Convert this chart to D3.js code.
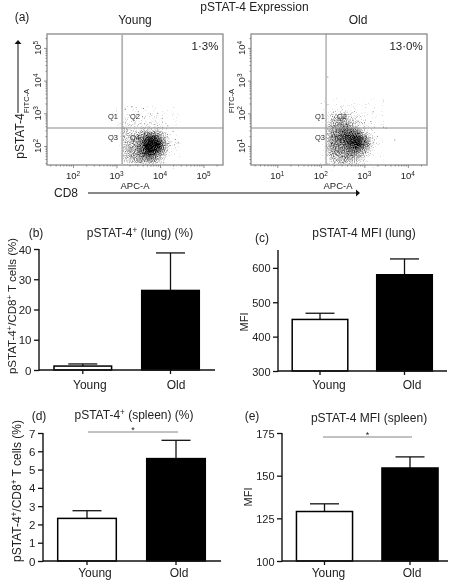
<!DOCTYPE html>
<html><head><meta charset="utf-8">
<style>html,body{margin:0;background:#fff}svg{display:block;opacity:.999}text{font-family:"Liberation Sans",Arial,sans-serif;fill:#222}</style>
<script src="https://cdn.jsdelivr.net/npm/d3@7"></script></head><body>
<svg id="c" width="454" height="580"></svg>
<script>
const categories=["Young","Old"];
const lungPct=[1.3,26.3], lungPctTop=[2.0,38.7];
const lungMfi=[450,580], lungMfiTop=[468,626];
const spleenPct=[2.33,5.6], spleenPctTop=[2.75,6.6];
const spleenMfi=[129,154.5], spleenMfiTop=[133.5,161];
const youngTicksX=[2,3,4,5], youngTicksY=[2,3,4,5];
const oldTicksX=[1,2,3,4], oldTicksY=[1,2,3,4];
const youngLogX0=3.12, oldLogX0=2.12, cellLogX=0.1;
const youngLogY0=3.05, oldLogY0=2.28, cellLogY=0.1223;
// density of events (0–9), rows top to bottom, columns left to right
const youngDensity=[
[0,0,0,1,0,0,0,0,0,0,0,0],
[0,1,0,1,1,1,0,1,0,0,0,0],
[1,1,1,1,1,1,1,1,1,0,0,0],
[1,1,1,1,1,1,1,1,1,1,0,0],
[2,2,1,1,2,2,2,2,2,1,1,0],
[2,2,2,2,3,4,4,4,3,2,1,0],
[2,2,2,3,4,6,7,7,5,3,2,0],
[2,2,3,3,5,7,9,9,7,4,2,1],
[2,3,3,4,5,8,9,9,8,4,2,1],
[2,3,3,4,5,7,9,8,6,4,2,0],
[2,3,3,4,5,6,7,6,4,3,1,0],
[2,2,3,3,4,4,5,4,3,2,1,0],
[1,2,2,3,3,3,3,3,2,1,0,0]];
const oldDensity=[
[0,0,0,1,0,0,0,0,0,0,0,0,0],
[0,1,1,1,1,1,1,0,0,0,0,0,0],
[1,2,2,2,2,2,1,1,0,0,0,0,0],
[1,3,3,3,3,2,2,1,1,0,0,0,0],
[2,3,4,4,4,3,2,2,1,0,0,0,0],
[2,4,4,5,5,4,3,2,1,1,0,0,0],
[3,4,5,6,6,6,5,4,2,1,1,0,0],
[3,5,5,6,7,7,7,6,4,2,1,0,0],
[3,5,5,6,7,8,9,8,6,4,2,1,0],
[3,5,5,6,7,8,9,9,7,5,2,1,0],
[3,5,5,5,6,7,8,8,6,4,2,0,0],
[3,4,5,5,5,6,6,6,4,3,1,0,0],
[2,4,4,4,5,5,5,4,3,2,1,0,0],
[2,3,3,4,4,4,3,3,2,1,0,0,0],
[1,2,3,3,3,3,2,2,1,1,0,0,0]];
const youngStrayX=[3.2,3.35,3.5,3.62,3.78,3.95,4.05,4.18,4.3,4.35,3.3,4.42];
const youngStrayY=[3.12,3.2,3.05,3.15,2.98,3.0,2.85,2.62,2.45,2.2,2.95,2.1];
const oldStrayX=[2.16,3.44,3.7,3.5,3.2,3.15,3.3];
const oldStrayY=[3.11,1.58,1.18,1.55,2.05,1.75,1.3];

const svg=d3.select("#c");
const defs=svg.append("defs");
const f=defs.append("filter").attr("id","grain").attr("x","-10%").attr("y","-10%").attr("width","120%").attr("height","120%").attr("color-interpolation-filters","sRGB");
f.append("feGaussianBlur").attr("in","SourceGraphic").attr("stdDeviation",1.3).attr("result","b");
f.append("feTurbulence").attr("type","fractalNoise").attr("baseFrequency",0.9).attr("numOctaves",2).attr("seed",3).attr("result","n");
f.append("feColorMatrix").attr("in","n").attr("type","matrix").attr("values","0 0 0 0 0 0 0 0 0 0 0 0 0 0 0 1 0 0 0 0").attr("result","m");
f.append("feComposite").attr("in","b").attr("in2","m").attr("operator","arithmetic").attr("k1",0).attr("k2",0.95).attr("k3",1).attr("k4",-0.66).attr("result","a");
f.append("feComponentTransfer").attr("in","a").attr("result","c").append("feFuncA").attr("type","linear").attr("slope",1.25);
f.append("feGaussianBlur").attr("in","c").attr("stdDeviation",0.3);

function txt(x,y,s,size,o={}){
  const t=svg.append("text").attr("x",x).attr("y",y).attr("font-size",size).attr("text-anchor",o.anchor||"middle");
  if(o.rot)t.attr("transform",`rotate(${o.rot} ${x} ${y})`);
  s.forEach(p=>{
    const q=typeof p==="string"?{t:p}:p;
    const sp=t.append("tspan").text(q.t);
    if(q.sup)sp.attr("font-size",size*0.68).attr("dy",-size*0.32);
    else if(q.after)sp.attr("dy",size*0.32);
  });
  return t;
}
function arrow(x1,y1,x2,y2){
  svg.append("line").attr("x1",x1).attr("y1",y1).attr("x2",x2).attr("y2",y2).attr("stroke","#111").attr("stroke-width",1);
  const dx=Math.sign(x2-x1),dy=Math.sign(y2-y1);
  const a=[[x2+dx*4,y2+dy*4],[x2-dy*3.5,y2-dx*3.5],[x2+dy*3.5,y2+dx*3.5]];
  svg.append("path").attr("d",d3.line()(a)+"Z").attr("fill","#111");
}
function flow(c){
  const x=d3.scaleLinear().domain(c.dx).range([c.l,c.r]);
  const y=d3.scaleLinear().domain(c.dy).range([165,34]);
  const g=svg.append("g");
  const cells=g.append("g").attr("filter","url(#grain)");
  c.den.forEach((row,i)=>row.forEach((v,j)=>{
    if(!v)return;
    const a=c.x0+j*cellLogX, b=c.y0-i*cellLogY;
    cells.append("rect").attr("x",x(a)).attr("y",y(b)).attr("width",x(a+cellLogX)-x(a)+.3).attr("height",y(b-cellLogY)-y(b)+.3)
      .attr("fill","#000").attr("fill-opacity",Math.min(1,v/c.div));
  }));
  g.selectAll("circle").data(c.sx).join("circle").attr("cx",d=>x(d)).attr("cy",(d,i)=>y(c.sy[i])).attr("r",.5).attr("fill","#555");
  g.append("rect").attr("x",c.l).attr("y",34).attr("width",c.r-c.l).attr("height",131).attr("fill","none").attr("stroke","#8a8a8a").attr("stroke-width",1.3);
  g.append("line").attr("x1",x(c.gx)).attr("x2",x(c.gx)).attr("y1",34).attr("y2",165).attr("stroke",c.gc).attr("stroke-width",c.gw);
  g.append("line").attr("x1",c.l).attr("x2",c.r).attr("y1",y(c.gy)).attr("y2",y(c.gy)).attr("stroke","#8a8a8a").attr("stroke-width",1);
  const minors=(lo,hi)=>{const m=[];for(let d=Math.floor(lo);d<hi;d++)for(let k=2;k<10;k++){const v=d+Math.log10(k);if(v>lo&&v<hi)m.push(v);}return m;};
  const ax=g.append("g").attr("transform","translate(0,165)").call(d3.axisBottom(x).tickValues(minors(...c.dx)).tickSize(1.5).tickFormat(""));
  const ay=g.append("g").attr("transform",`translate(${c.l},0)`).call(d3.axisLeft(y).tickValues(minors(...c.dy)).tickSize(1.5).tickFormat(""));
  const bx=g.append("g").attr("transform","translate(0,165)").call(d3.axisBottom(x).tickValues(c.tx).tickSize(3).tickFormat(""));
  const by=g.append("g").attr("transform",`translate(${c.l},0)`).call(d3.axisLeft(y).tickValues(c.ty).tickSize(3).tickFormat(""));
  [ax,ay,bx,by].forEach(a=>{a.select(".domain").remove();a.selectAll("line").attr("stroke","#666").attr("stroke-width",.7);});
  c.tx.forEach(v=>txt(x(v),179,["10",{t:String(v),sup:1}],9.5));
  c.ty.forEach(v=>txt(c.l-6,y(v),["10",{t:String(v),sup:1}],9.5,{rot:-90}));
  txt(c.fitc,101,["FITC-A"],7.5,{rot:-90});
  txt(c.apc,189,["APC-A"],9.5);
  txt(c.q1,119,["Q1"],7.5);txt(c.q2,119,["Q2"],7.5);txt(c.q1,140,["Q3"],7.5);txt(c.q2,140,["Q4"],7.5);
  txt(c.pctx,50,[c.pct],11.5);
  txt((c.l+c.r)/2+c.tdx,24,[c.name],12);
}
flow({l:47,r:223,dx:[1.402,5.448],dy:[1.419,5.425],tx:youngTicksX,ty:youngTicksY,den:youngDensity,div:8,x0:youngLogX0,y0:youngLogY0,gx:3.13,gy:2.55,gc:"#b5b5b5",gw:1.8,sx:youngStrayX,sy:youngStrayY,fitc:29,apc:135,q1:113,q2:135,pct:"1·3%",pctx:205,name:"Young",tdx:0});
flow({l:251,r:427,dx:[0.395,4.44],dy:[0.419,4.425],tx:oldTicksX,ty:oldTicksY,den:oldDensity,div:9.5,x0:oldLogX0,y0:oldLogY0,gx:2.12,gy:1.55,gc:"#8a8a8a",gw:1,sx:oldStrayX,sy:oldStrayY,fitc:234,apc:338,q1:320,q2:342,pct:"13·0%",pctx:406,name:"Old",tdx:19});

txt(254.5,11,["pSTAT-4 Expression"],12);
txt(22,21,["(a)"],12);
txt(24,136,["pSTAT-4"],12,{rot:-90});
arrow(18,113,18,44);
txt(66,197,["CD8"],12);
arrow(88,193,356,193);

function bars(c){
  const step=c.c2-c.c1, p=1-c.bw/step;
  const x=d3.scaleBand().domain(categories).range([c.c1-step/2,c.c2+step/2]).paddingInner(p).paddingOuter(p/2);
  const y=d3.scaleLinear().domain(c.domain).range([c.y0,c.y1]);
  const g=svg.append("g");
  const xa=g.append("g").attr("transform",`translate(0,${c.y0})`).call(d3.axisBottom(x).tickSize(4).tickFormat(""));
  xa.select(".domain").remove();xa.selectAll("line").attr("stroke","#111").attr("stroke-width",1.3);
  categories.forEach((k,i)=>txt(x(k)+x.bandwidth()/2+c.ldx[i],c.y0+c.ly,[k],12));
  categories.forEach((k,i)=>{
    const m=x(k)+x.bandwidth()/2;
    g.append("line").attr("x1",m).attr("x2",m).attr("y1",y(c.vals[i])).attr("y2",y(c.tops[i])).attr("stroke","#111").attr("stroke-width",1.3);
    g.append("line").attr("x1",m-14.5).attr("x2",m+14.5).attr("y1",y(c.tops[i])).attr("y2",y(c.tops[i])).attr("stroke","#111").attr("stroke-width",1.3);
    g.append("rect").attr("x",x(k)+.7).attr("y",y(c.vals[i])).attr("width",x.bandwidth()-1.4).attr("height",y(c.domain[0])-y(c.vals[i]))
      .attr("fill",i?"#000":"#fff").attr("stroke","#000").attr("stroke-width",1.5);
  });
  const ya=g.append("g").attr("transform",`translate(${c.ax},0)`).call(d3.axisLeft(y).tickValues(c.ticks).tickSize(5).tickFormat(""));
  ya.select(".domain").remove();ya.selectAll("line").attr("stroke","#111").attr("stroke-width",1.3);
  c.ticks.forEach(v=>txt(c.ax-7.5,y(v)+4.5,[String(v)],c.tf,{anchor:"end"}));
  g.append("line").attr("x1",c.ax).attr("x2",c.ax).attr("y1",c.y0+.7).attr("y2",c.y1).attr("stroke","#111").attr("stroke-width",1.4);
  g.append("line").attr("x1",c.ax).attr("x2",c.xEnd).attr("y1",c.y0).attr("y2",c.y0).attr("stroke","#111").attr("stroke-width",1.4);
  if(c.sig){
    g.append("line").attr("x1",c.sig[0]).attr("x2",c.sig[1]).attr("y1",c.sig[2]).attr("y2",c.sig[2]).attr("stroke","#777").attr("stroke-width",.9);
    txt((c.sig[0]+c.sig[1])/2,c.sig[2]+1,["*"],9);
  }
  txt(c.lab[0],c.lab[1],[c.letter],12);
  txt(c.tt[0],c.tt[1],c.title,12);
  txt(c.yl[0],c.yl[1],c.ylabel,c.yf,{rot:-90});
}
const plus={t:"+",sup:1};
const ylab=[ "pSTAT-4",plus,{t:"/CD8",after:1},plus,{t:" T cells (%)",after:1}];
bars({vals:lungPct,tops:lungPctTop,domain:[0,40],ticks:[0,10,20,30,40],y0:370,y1:249,ax:39,xEnd:215,c1:82.8,c2:170.5,bw:59,ldx:[7,5.5],ly:19,tf:11.5,lab:[36,237],letter:"(b)",tt:[140,237],title:["pSTAT-4",plus,{t:" (lung) (%)",after:1}],yl:[16,306],ylabel:ylab,yf:11.5});
bars({vals:lungMfi,tops:lungMfiTop,domain:[300,652],ticks:[300,400,500,600],y0:371,y1:250,ax:278,xEnd:447,c1:320,c2:404.5,bw:57,ldx:[9,7.5],ly:18,tf:11,lab:[262,242],letter:"(c)",tt:[364,237],title:["pSTAT-4 MFI (lung)"],yl:[248,322],ylabel:["MFI"],yf:11});
bars({vals:spleenPct,tops:spleenPctTop,domain:[0,7],ticks:[0,1,2,3,4,5,6,7],y0:561,y1:433,ax:43,xEnd:221,c1:87,c2:176,bw:60,ldx:[8,3],ly:16,tf:11.5,sig:[88,178,432],lab:[39,420],letter:"(d)",tt:[134,419],title:["pSTAT-4",plus,{t:" (spleen) (%)",after:1}],yl:[21,491],ylabel:ylab,yf:12});
bars({vals:spleenMfi,tops:spleenMfiTop,domain:[100,175],ticks:[100,125,150,175],y0:561,y1:433,ax:282,xEnd:448,c1:324.5,c2:410,bw:57.5,ldx:[4,2],ly:16,tf:11,sig:[323,412,437],lab:[252,420],letter:"(e)",tt:[369,422],title:["pSTAT-4 MFI (spleen)"],yl:[252,497],ylabel:["MFI"],yf:11});
</script></body></html>
